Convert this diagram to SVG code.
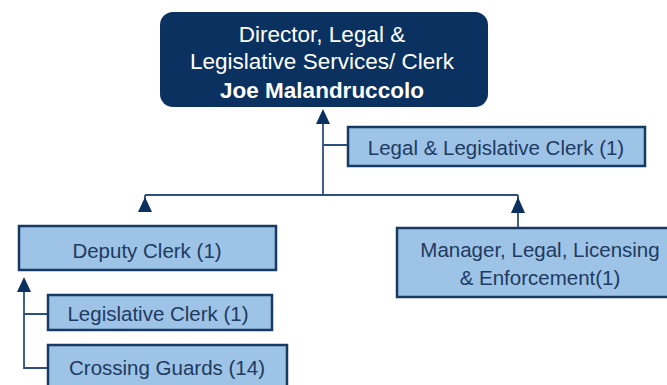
<svg xmlns="http://www.w3.org/2000/svg" width="667" height="385" viewBox="0 0 667 385">
<style>
.box{fill:#9dc3e6;stroke:#173a63;stroke-width:2.5}
.t{font-family:"Liberation Sans",Arial,sans-serif;font-size:20.5px;fill:#1f3a60;text-anchor:middle}
.w{font-family:"Liberation Sans",Arial,sans-serif;font-size:22.5px;fill:#ffffff;text-anchor:middle}
.ln{fill:none;stroke:#2b507e;stroke-width:1.8}
.ah{fill:#0b3160}
</style>
<rect width="667" height="385" fill="#ffffff"/>
<g id="connectors">
<path class="ln" d="M323 122 V195 M145 195 H518 M145 195 V212 M518 195 V228 M323 145 H348"/>
<path class="ln" d="M24 290 V368 H48 M24 314 H48"/>
<polygon class="ah" points="323,109 316,124 330,124"/>
<polygon class="ah" points="145,197 138,212 152,212"/>
<polygon class="ah" points="518,197 511,213 525,213"/>
<polygon class="ah" points="24,277 17,292 31,292"/>
</g>
<g id="director">
<rect x="160" y="12" width="328" height="95" rx="13" fill="#0b3160"/>
<text class="w" x="322" y="42">Director, Legal &amp;</text>
<text class="w" x="322" y="69">Legislative Services/ Clerk</text>
<text class="w" x="322" y="98" font-weight="bold" font-size="23px">Joe Malandruccolo</text>
</g>
<g id="legal-clerk">
<rect class="box" x="348" y="127" width="297" height="39"/>
<text class="t" x="496" y="155">Legal &amp; Legislative Clerk (1)</text>
</g>
<g id="deputy-clerk">
<rect class="box" x="19" y="226" width="257" height="44"/>
<text class="t" x="147" y="258">Deputy Clerk (1)</text>
</g>
<g id="manager">
<rect class="box" x="397" y="228" width="275" height="69"/>
<text class="t" x="540" y="257">Manager, Legal, Licensing</text>
<text class="t" x="540" y="285">&amp; Enforcement(1)</text>
</g>
<g id="legislative-clerk">
<rect class="box" x="48" y="295" width="224" height="35"/>
<text class="t" x="158" y="321">Legislative Clerk (1)</text>
</g>
<g id="crossing-guards">
<rect class="box" x="48" y="345" width="239" height="45"/>
<text class="t" x="167" y="375">Crossing Guards (14)</text>
</g>
</svg>
